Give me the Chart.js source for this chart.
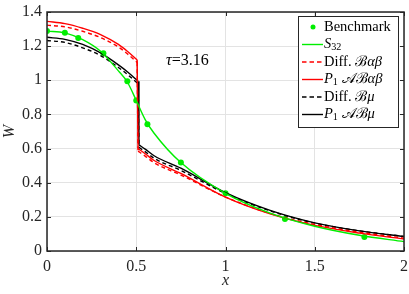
<!DOCTYPE html>
<html>
<head>
<meta charset="utf-8">
<script src="https://cdn.jsdelivr.net/npm/chart.js@4.4.0/dist/chart.umd.min.js"></script>
<style>
  html, body { margin: 0; padding: 0; background: #fff; }
  #wrap { width: 409px; height: 294px; }
</style>
</head>
<body>
<div id="wrap"><canvas id="chart" width="409" height="294"></canvas></div>
<script>
// tick labels
const xTicks = [0, 0.5, 1, 1.5, 2];
const yTicks = [0, 0.2, 0.4, 0.6, 0.8, 1, 1.2, 1.4];

// benchmark points
const benchX = [0, 0.1, 0.175, 0.316, 0.45, 0.5, 0.5625, 0.75, 1, 1.333, 1.778];
const benchY = [1.288, 1.278, 1.248, 1.158, 0.994, 0.882, 0.743, 0.518, 0.338, 0.188, 0.082];

// S32 transport solution
const s32X = [0, 0.1, 0.2, 0.3, 0.4, 0.45, 0.5, 0.55, 0.6, 0.75, 1, 1.25, 1.5, 1.75, 2];
const s32Y = [1.288, 1.278, 1.238, 1.17, 1.055, 0.99, 0.882, 0.77, 0.69, 0.518, 0.338, 0.222, 0.145, 0.092, 0.055];

// diffusion / P1 models, left of the interface
const redLeftX = [0, 0.1, 0.2, 0.3, 0.4, 0.45, 0.505];
const redSolidL  = [1.345, 1.332, 1.305, 1.268, 1.21, 1.17, 1.12];
const redDashedL = [1.323, 1.313, 1.287, 1.25, 1.195, 1.155, 1.105];
const blackLeftX = [0, 0.1, 0.2, 0.3, 0.4, 0.45, 0.51];
const blackSolidL  = [1.252, 1.24, 1.21, 1.16, 1.09, 1.05, 0.995];
const blackDashedL = [1.233, 1.222, 1.19, 1.145, 1.075, 1.035, 0.98];

// right of the interface
const redRightX = [0.51, 0.55, 0.6, 0.75, 1, 1.25, 1.5, 1.75, 2];
const redSolidR  = [0.60, 0.57, 0.53, 0.454, 0.315, 0.217, 0.15, 0.105, 0.07];
const redDashedR = [0.585, 0.556, 0.517, 0.445, 0.316, 0.22, 0.155, 0.11, 0.075];
const blackRightX = [0.515, 0.55, 0.6, 0.75, 1, 1.25, 1.5, 1.75, 2];
const blackSolidR  = [0.622, 0.597, 0.558, 0.485, 0.342, 0.238, 0.165, 0.118, 0.085];
const blackDashedR = [0.607, 0.582, 0.543, 0.472, 0.337, 0.235, 0.163, 0.118, 0.085];

const GREEN = '#00ee00';
const RED = '#ff0000';
const AXIS = '#262626';
const SERIF = '"Liberation Serif", "DejaVu Serif", serif';

function pts(xs, ys) { return xs.map((x, i) => ({ x: x, y: ys[i] })); }

function lineSet(data, color, dash, smooth) {
    return {
        data: data,
        borderColor: color,
        backgroundColor: color,
        borderWidth: 1.4,
        borderDash: dash || [],
        pointRadius: 0,
        cubicInterpolationMode: smooth ? 'monotone' : 'default',
        tension: 0,
        fill: false
    };
}

// left curve + vertical jump + right curve
function jumpSeries(lx, ly, rx, ry, color, dash) {
    const jump = [{ x: lx[lx.length - 1], y: ly[ly.length - 1] }, { x: rx[0], y: ry[0] }];
    return [
        lineSet(pts(lx, ly), color, dash, true),
        lineSet(jump, color, dash, false),
        lineSet(pts(rx, ry), color, dash, true)
    ];
}

// legend rows: [text, style] with style r = roman, i = italic, s = subscript
const legendItems = [
    { color: GREEN, kind: 'dot', parts: [['Benchmark', 'r']] },
    { color: GREEN, kind: 'line', parts: [['S', 'i'], ['32', 's']] },
    { color: RED, kind: 'dash', parts: [['Diff. ', 'r'], ['ℬ', 'r'], ['αβ', 'i']] },
    { color: RED, kind: 'line', parts: [['P', 'i'], ['1', 's'], [' ', 'r'], ['𝒜', 'r'], ['ℬ', 'r'], ['αβ', 'i']] },
    { color: '#000', kind: 'dash', parts: [['Diff. ', 'r'], ['ℬ', 'r'], ['μ', 'i']] },
    { color: '#000', kind: 'line', parts: [['P', 'i'], ['1', 's'], [' ', 'r'], ['𝒜', 'r'], ['ℬ', 'r'], ['μ', 'i']] }
];

function drawParts(ctx, parts, x, y, size) {
    parts.forEach(([t, st]) => {
        if (st === 's') {
            ctx.font = (size * 0.7) + 'px ' + SERIF;
            ctx.fillText(t, x, y + 3);
        } else {
            ctx.font = (st === 'i' ? 'italic ' : '') + size + 'px ' + SERIF;
            ctx.fillText(t, x, y);
        }
        x += ctx.measureText(t).width;
    });
}

// box, inward ticks, legend and tau label
const framePlugin = {
    id: 'frame',
    afterDatasetsDraw(chart) {
        const { ctx, chartArea: a, scales } = chart;
        ctx.save();
        ctx.strokeStyle = AXIS;
        ctx.lineWidth = 1;
        xTicks.forEach(v => {
            const px = Math.round(scales.x.getPixelForValue(v)) + 0.5;
            ctx.beginPath();
            ctx.moveTo(px, a.bottom); ctx.lineTo(px, a.bottom - 4);
            ctx.moveTo(px, a.top); ctx.lineTo(px, a.top + 4);
            ctx.stroke();
        });
        yTicks.forEach(v => {
            const py = Math.round(scales.y.getPixelForValue(v)) + 0.5;
            ctx.beginPath();
            ctx.moveTo(a.left, py); ctx.lineTo(a.left + 4, py);
            ctx.moveTo(a.right, py); ctx.lineTo(a.right - 4, py);
            ctx.stroke();
        });
        ctx.lineWidth = 1.5;
        ctx.strokeRect(a.left, a.top, a.right - a.left, a.bottom - a.top);

        // tau label
        ctx.fillStyle = '#000';
        ctx.textBaseline = 'middle';
        drawParts(ctx, [['τ', 'i'], ['=3.16', 'r']], 166, 61, 16);

        // legend
        const lx = 298, ly = 16, lw = 100, lh = 111;
        ctx.fillStyle = '#fff';
        ctx.fillRect(lx, ly, lw, lh);
        ctx.strokeStyle = '#262626';
        ctx.lineWidth = 1;
        ctx.strokeRect(lx + 0.5, ly + 0.5, lw, lh);
        legendItems.forEach((it, i) => {
            const y = ly + 11 + i * 17.5;
            ctx.strokeStyle = it.color;
            ctx.fillStyle = it.color;
            ctx.lineWidth = 1.4;
            if (it.kind === 'dot') {
                ctx.beginPath();
                ctx.arc(313, y, 2.5, 0, Math.PI * 2);
                ctx.fill();
            } else {
                ctx.setLineDash(it.kind === 'dash' ? [4.5, 3] : []);
                ctx.beginPath();
                ctx.moveTo(302, y); ctx.lineTo(323, y);
                ctx.stroke();
                ctx.setLineDash([]);
            }
            ctx.fillStyle = '#000';
            drawParts(ctx, it.parts, 324, y, 14.5);
        });
        ctx.restore();
    }
};

function noPad(s) {
    s.paddingLeft = 0; s.paddingRight = 0; s.paddingTop = 0; s.paddingBottom = 0;
}

new Chart(document.getElementById('chart'), {
    type: 'line',
    data: {
        datasets: [
            lineSet(pts(s32X, s32Y), GREEN, [], true),
            ...jumpSeries(redLeftX, redDashedL, redRightX, redDashedR, RED, [4, 3]),
            ...jumpSeries(redLeftX, redSolidL, redRightX, redSolidR, RED),
            ...jumpSeries(blackLeftX, blackDashedL, blackRightX, blackDashedR, '#000', [4, 3]),
            ...jumpSeries(blackLeftX, blackSolidL, blackRightX, blackSolidR, '#000'),
            {
                label: 'Benchmark',
                data: pts(benchX, benchY),
                showLine: false,
                pointRadius: 3,
                pointBorderWidth: 0,
                pointBackgroundColor: GREEN,
                borderColor: GREEN
            }
        ]
    },
    options: {
        responsive: false,
        animation: false,
        layout: { padding: { top: 12, right: 5, left: 0, bottom: 0 } },
        plugins: { legend: { display: false }, tooltip: { enabled: false } },
        scales: {
            x: {
                type: 'linear', min: 0, max: 2,
                afterBuildTicks: s => { s.ticks = xTicks.map(v => ({ value: v })); },
                afterFit: s => { s.height = 43; noPad(s); },
                grid: { color: '#e3e3e3', drawTicks: false },
                border: { display: false },
                ticks: { color: AXIS, padding: 6, font: { family: SERIF, size: 16 },
                         callback: v => String(v) },
                title: { display: true, text: 'x', color: AXIS, padding: { top: 1 },
                         font: { family: SERIF, size: 16, style: 'italic' } }
            },
            y: {
                min: 0, max: 1.4,
                afterBuildTicks: s => { s.ticks = yTicks.map(v => ({ value: v })); },
                afterFit: s => { s.width = 47; noPad(s); },
                grid: { color: '#e3e3e3', drawTicks: false },
                border: { display: false },
                ticks: { color: AXIS, padding: 5, font: { family: SERIF, size: 16 },
                         callback: v => String(+v.toFixed(1)) },
                title: { display: true, text: 'W', color: AXIS, padding: { top: 0, bottom: 0 },
                         font: { family: SERIF, size: 16, style: 'italic' } }
            }
        }
    },
    plugins: [framePlugin]
});
</script>
</body>
</html>
